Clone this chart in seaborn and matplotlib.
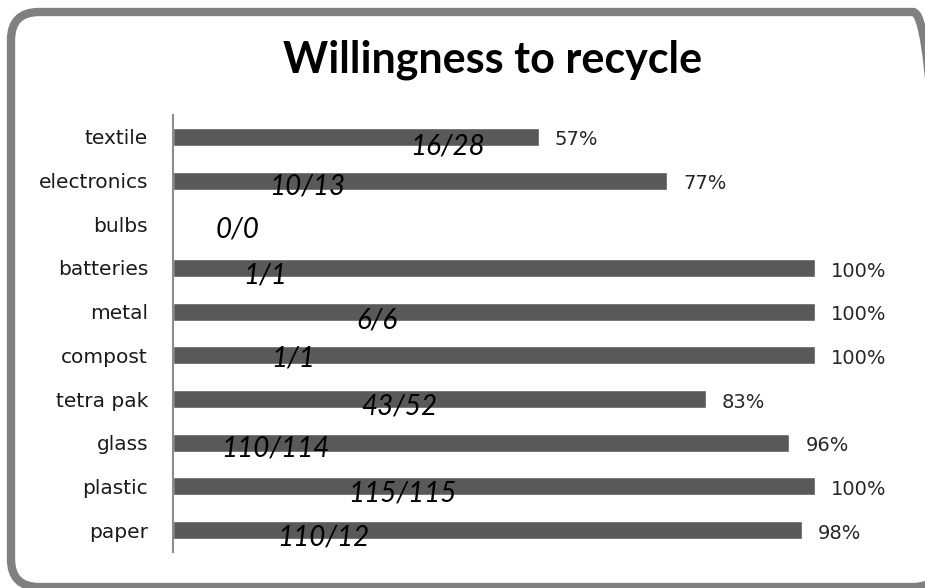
import matplotlib
matplotlib.use("Agg")
import matplotlib.pyplot as plt
import seaborn as sns
from matplotlib.patches import FancyBboxPatch
from matplotlib.transforms import IdentityTransform

# data, top row first
materials = ["textile", "electronics", "bulbs", "batteries", "metal",
             "compost", "tetra pak", "glass", "plastic", "paper"]
percent = [57, 77, 0, 100, 100, 100, 83, 96, 100, 98]
fractions = ["16/28", "10/13", "0/0", "1/1", "6/6",
             "1/1", "43/52", "110/114", "115/115", "110/12"]

# where the fraction labels sit (x in percent units, y offset in rows)
frac_x = [42.7, 20.9, 10.0, 14.3, 31.8, 18.7, 35.2, 15.9, 35.8, 23.4]
frac_dy = [0.22, 0.13, 0.12, 0.17, 0.2, 0.08, 0.16, 0.14, 0.16, 0.16]

sns.set_style("white")

fig = plt.figure(figsize=(9.25, 5.88), dpi=100)
ax = fig.add_axes([173 / 925, 1 - 552 / 588, (815 - 173) / 925, (552 - 115) / 588])

sns.barplot(x=percent, y=materials, orient="h", color="#595959",
            width=0.41, saturation=1, ax=ax)

ax.set_xlim(0, 100)
ax.set_ylim(9.5, -0.5)
ax.set_xlabel("")
ax.set_ylabel("")
ax.set_xticks([])
ax.tick_params(axis="y", length=0, pad=18, labelsize=14.5, labelcolor="#1a1a1a")

for side in ["top", "right", "bottom"]:
    ax.spines[side].set_visible(False)
ax.spines["left"].set_color("#8c8c8c")
ax.spines["left"].set_linewidth(1.5)

# percent labels right of each bar
for i, p in enumerate(percent):
    if p > 0:
        ax.text(p + 2.5, i + 0.07, f"{p}%", va="center", ha="left",
                fontsize=14, color="#262626", clip_on=False)

# counts, drawn in italics over the bars
for i, (lbl, fx, dy) in enumerate(zip(fractions, frac_x, frac_dy)):
    ax.text(fx, i + dy, lbl, ha="center", va="center", fontsize=20,
            style="italic", family="Lato", color="#000000", clip_on=False)

fig.text(493 / 925, 1 - 60 / 588, "Willingness to recycle", ha="center",
         va="center", fontsize=31, fontweight="bold", family="Lato",
         color="black")

# rounded frame around the whole chart, right edge runs off the picture
frame = FancyBboxPatch((11, 1), 930, 576 - 1,
                       boxstyle="round,pad=0,rounding_size=28",
                       transform=IdentityTransform(), facecolor="none",
                       edgecolor="#808080", linewidth=6)
fig.add_artist(frame)

fig.savefig("out.png", dpi=100)
